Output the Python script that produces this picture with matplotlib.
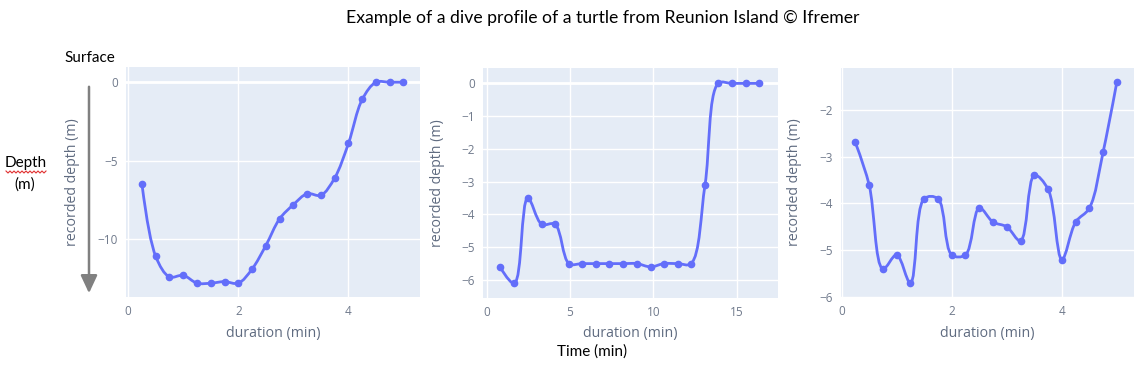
import numpy as np
import matplotlib.pyplot as plt
from matplotlib.path import Path
from matplotlib.patches import PathPatch, FancyArrowPatch
from matplotlib.lines import Line2D

# dive 1
t1 = [0.25, 0.5, 0.75, 1.0, 1.25, 1.5, 1.75, 2.0, 2.25, 2.5,
      2.75, 3.0, 3.25, 3.5, 3.75, 4.0, 4.25, 4.5, 4.75, 5.0]
d1 = [-6.5, -11.1, -12.4, -12.3, -12.8, -12.8, -12.7, -12.8, -11.9, -10.4,
      -8.7, -7.8, -7.1, -7.2, -6.1, -3.9, -1.1, 0, 0, 0]

# dive 2
t2 = [0.8, 1.66, 2.46, 3.3, 4.1, 4.94, 5.74, 6.56, 7.36, 8.2,
      9.0, 9.84, 10.64, 11.46, 12.26, 13.1, 13.9, 14.7, 15.54, 16.34]
d2 = [-5.6, -6.1, -3.5, -4.3, -4.3, -5.5, -5.5, -5.5, -5.5, -5.5,
      -5.5, -5.6, -5.5, -5.5, -5.5, -3.1, 0, 0, 0, 0]

# dive 3
t3 = [0.25, 0.5, 0.75, 1.0, 1.25, 1.5, 1.75, 2.0, 2.25, 2.5,
      2.75, 3.0, 3.25, 3.5, 3.75, 4.0, 4.25, 4.5, 4.75, 5.0]
d3 = [-2.7, -3.6, -5.4, -5.1, -5.7, -3.9, -3.9, -5.1, -5.1, -4.1,
      -4.4, -4.5, -4.8, -3.4, -3.7, -5.2, -4.4, -4.1, -2.9, -1.4]

xticks = [[0, 2, 4], [0, 5, 10, 15], [0, 2, 4]]
yticks = [[0, -5, -10], [0, -1, -2, -3, -4, -5, -6], [-2, -3, -4, -5, -6]]

W, H = 1140, 369
LINE = '#636EFA'
BG = '#E5ECF6'
TXT = '#5f6b80'


def tangent(p0, p1, p2, s=1.0):
    # same smoothing as plotly's 'spline' line shape (pixel space)
    d1x, d1y = p0 - p1
    d2x, d2y = p2 - p1
    d1a = (d1x * d1x + d1y * d1y) ** 0.25
    d2a = (d2x * d2x + d2y * d2y) ** 0.25
    numx = (d2a * d2a * d1x - d1a * d1a * d2x) * s
    numy = (d2a * d2a * d1y - d1a * d1a * d2y) * s
    den1 = 3 * d2a * (d1a + d2a)
    den2 = 3 * d1a * (d1a + d2a)
    a = p1 + (np.array([numx, numy]) / den1 if den1 else 0)
    b = p1 - (np.array([numx, numy]) / den2 if den2 else 0)
    return a, b


def spline(ax, x, y):
    pts = ax.transData.transform(np.column_stack([x, y]))
    tg = [tangent(pts[i - 1], pts[i], pts[i + 1]) for i in range(1, len(pts) - 1)]
    verts = [pts[0], tg[0][0], pts[1]]
    codes = [Path.MOVETO, Path.CURVE3, Path.CURVE3]
    for i in range(2, len(pts) - 1):
        verts += [tg[i - 2][1], tg[i - 1][0], pts[i]]
        codes += [Path.CURVE4] * 3
    verts += [tg[-1][1], pts[-1]]
    codes += [Path.CURVE3] * 2
    verts = ax.transData.inverted().transform(np.array(verts))
    ax.add_patch(PathPatch(Path(verts, codes), fill=False, edgecolor=LINE, lw=2, zorder=3))
    ax.plot(x, y, 'o', color=LINE, ms=4.5, zorder=4)


fig = plt.figure(figsize=(W / 100, H / 100), dpi=100)

boxes = [(126, 420, 67, 297), (483, 778, 68, 298), (841, 1134, 68, 297)]
xlims = [(-0.04, 5.30), (-0.22, 17.48), (-0.01, 5.31)]
ylims = [(-13.68, 0.97), (-6.55, 0.47), (-5.96, -1.11)]
series = [(t1, d1), (t2, d2), (t3, d3)]
ylabel_x = [80, 445, 802]
xlabel_y = 326

for k in range(3):
    l, r, t, b = boxes[k]
    ax = fig.add_axes([l / W, 1 - b / H, (r - l) / W, (b - t) / H])
    ax.set_facecolor(BG)
    ax.set_xlim(*xlims[k])
    ax.set_ylim(*ylims[k])
    ax.set_xticks(xticks[k])
    ax.set_yticks(yticks[k])
    ax.grid(color='white', lw=1)
    ax.set_axisbelow(True)
    if 0 in yticks[k]:
        ax.axhline(0, color='white', lw=2, zorder=1)
    for s in ax.spines.values():
        s.set_visible(False)
    ax.tick_params(length=0, labelsize=8.5, labelcolor='#707a8c', pad=6)
    for lab in ax.get_xticklabels() + ax.get_yticklabels():
        lab.set_family('Open Sans')
    ax.set_xlabel('duration (min)', fontsize=10.2, color=TXT, family='Open Sans')
    ax.set_ylabel('recorded depth (m)', fontsize=10.2, color=TXT, family='Open Sans')
    ax.yaxis.set_label_coords((ylabel_x[k] - l) / (r - l), 0.5)
    ax.xaxis.set_label_coords(0.5, (b - xlabel_y) / (b - t))
    spline(ax, *series[k])

cal = ['Lato', 'DejaVu Sans']
fig.text(603 / W, 1 - 18 / H, 'Example of a dive profile of a turtle from Reunion Island © Ifremer',
         ha='center', va='center', fontsize=12.7, family=cal, color='black')
fig.text(90 / W, 1 - 58 / H, 'Surface', ha='center', va='center', fontsize=11, family=cal)
fig.text(26 / W, 1 - 163 / H, 'Depth', ha='center', va='center', fontsize=11, family=cal)
fig.text(25 / W, 1 - 185 / H, '(m)', ha='center', va='center', fontsize=11, family=cal)
fig.text(592 / W, 1 - 352 / H, 'Time (min)', ha='center', va='center', fontsize=11, family=cal)

# spell-check squiggle under "Depth"
zx = np.arange(6, 47, 2)
zy = np.where(np.arange(len(zx)) % 2 == 0, 171, 173)
fig.lines.append(Line2D(zx / W, 1 - zy / H, transform=fig.transFigure, color='#e03030', lw=0.8))

arrow = FancyArrowPatch((89 / W, 1 - 84 / H), (89 / W, 1 - 296 / H), transform=fig.transFigure,
                        arrowstyle='-|>,head_length=0.6,head_width=0.28', mutation_scale=18,
                        color='#808080', lw=1.8)
fig.patches.append(arrow)

fig.savefig('out.png', dpi=100)
